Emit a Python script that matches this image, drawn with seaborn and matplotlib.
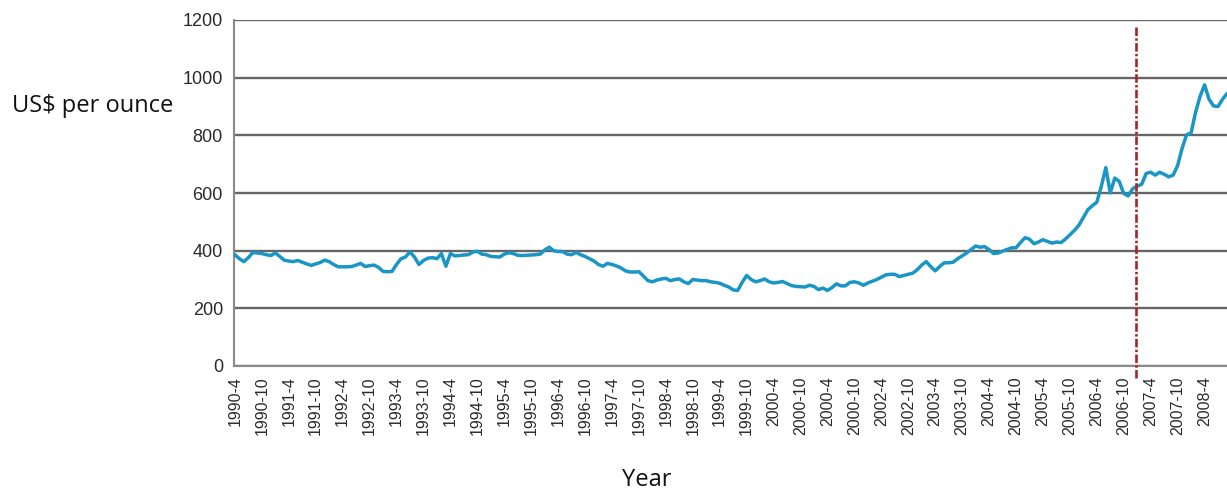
import numpy as np
import pandas as pd
import seaborn as sns
import matplotlib.pyplot as plt
from matplotlib.ticker import MultipleLocator

# monthly gold price (US$ per ounce); series starts 1990-4
price_1990 = [386, 372, 362, 376, 394, 392, 390, 386, 383]  # Apr-Dec
price_1991 = [392, 380, 367, 364, 362, 366, 360, 354, 349, 354, 359, 367]
price_1992 = [362, 352, 344, 344, 344, 345, 350, 356, 345, 348, 350, 342]
price_1993 = [328, 327, 328, 352, 372, 378, 396, 378, 352, 366, 374, 376]
price_1994 = [372, 390, 346, 390, 382, 383, 385, 386, 395, 398, 388, 386]
price_1995 = [380, 379, 378, 388, 393, 390, 384, 383, 384, 385, 386, 388]
price_1996 = [402, 412, 400, 397, 397, 388, 386, 394, 386, 380, 372, 364]
price_1997 = [352, 346, 356, 352, 347, 340, 330, 326, 326, 327, 312, 296]
price_1998 = [292, 298, 302, 304, 296, 300, 302, 292, 286, 300, 298, 296]
price_1999 = [296, 292, 290, 287, 280, 274, 264, 262, 290, 314, 300, 292]
price_2000 = [296, 302, 292, 288, 290, 293, 286, 279, 276, 275, 274, 280]
price_2001 = [276, 265, 270, 262, 272, 285, 278, 278, 290, 292, 288, 280]
price_2002 = [288, 294, 300, 308, 316, 318, 318, 310, 314, 318, 322, 334]
price_2003 = [350, 362, 345, 330, 345, 358, 358, 360, 372, 382, 392, 404]
price_2004 = [416, 412, 414, 404, 390, 392, 398, 404, 410, 410, 428, 445]
price_2005 = [440, 424, 430, 438, 432, 426, 430, 428, 440, 455, 470, 488]
price_2006 = [515, 542, 556, 568, 623, 688, 600, 652, 640, 598, 590, 615]
price_2007 = [624, 630, 668, 672, 662, 672, 665, 656, 662, 695, 755, 802]
price_2008 = [808, 880, 935, 975, 925, 902, 900, 925, 945]  # Jan-Sep

tick_labels = [
    "1990-4", "1990-10", "1991-4", "1991-10", "1992-4", "1992-10",
    "1993-4", "1993-10", "1994-4", "1994-10", "1995-4", "1995-10",
    "1996-4", "1996-10", "1997-4", "1997-10", "1998-4", "1998-10",
    "1999-4", "1999-10", "2000-4", "2000-10", "2000-4", "2000-10",
    "2002-4", "2002-10", "2003-4", "2003-10", "2004-4", "2004-10",
    "2005-4", "2005-10", "2006-4", "2006-10", "2007-4", "2007-10",
    "2008-4",
]
marker_month = 200.8  # dashed red line, end of 2006

price = (price_1990 + price_1991 + price_1992 + price_1993 + price_1994
         + price_1995 + price_1996 + price_1997 + price_1998 + price_1999
         + price_2000 + price_2001 + price_2002 + price_2003 + price_2004
         + price_2005 + price_2006 + price_2007 + price_2008)
df = pd.DataFrame({"month": np.arange(len(price)), "price": price})

sns.set_style("white")
plt.rcParams["font.family"] = ["Liberation Sans", "DejaVu Sans"]

W, H = 1227, 492
fig = plt.figure(figsize=(W / 100, H / 100), dpi=100)
ax = fig.add_axes([234 / W, 1 - 366 / H, (W - 234) / W, (366 - 20) / H])

sns.lineplot(data=df, x="month", y="price", ax=ax, color="#1996c6",
             linewidth=2.5, zorder=3)

ax.set_ylim(0, 1200)
ax.set_yticks(range(0, 1201, 200))
ax.set_xlim(-0.2, 221)
ax.set_xticks(np.arange(len(tick_labels)) * 6)
ax.set_xticklabels(tick_labels, rotation=90)
ax.xaxis.set_minor_locator(MultipleLocator(1))

ax.set_axisbelow(True)
ax.yaxis.grid(True, color="#666666", linewidth=1.7)
ax.xaxis.grid(False)
for side in ["top", "right"]:
    ax.spines[side].set_visible(False)
for side in ["left", "bottom"]:
    ax.spines[side].set_color("#8a8a8a")
    ax.spines[side].set_linewidth(1.5)

ax.tick_params(axis="y", length=0, pad=8, labelsize=13, labelcolor="#2a2a2a")
ax.tick_params(axis="x", which="both", direction="out", length=4.5,
               width=0.9, color="#7a7a7a", pad=3, labelsize=11.5,
               labelcolor="#2a2a2a")
ax.set_xlabel("")
ax.set_ylabel("")

ax.axvline(marker_month, ymin=-0.035, ymax=0.985, color="#a8232b",
           linewidth=1.9, linestyle=(0, (3.2, 0.9, 0.9, 0.9)),
           clip_on=False, zorder=4)

fig.text(12 / W, 1 - 106 / H, "US$ per ounce", ha="left", va="center",
         fontsize=17, family=["Open Sans", "DejaVu Sans"], color="#111111")
fig.text(647 / W, 1 - 480 / H, "Year", ha="center", va="center",
         fontsize=17, family=["Open Sans", "DejaVu Sans"], color="#111111")

fig.savefig("out.png", dpi=100)
